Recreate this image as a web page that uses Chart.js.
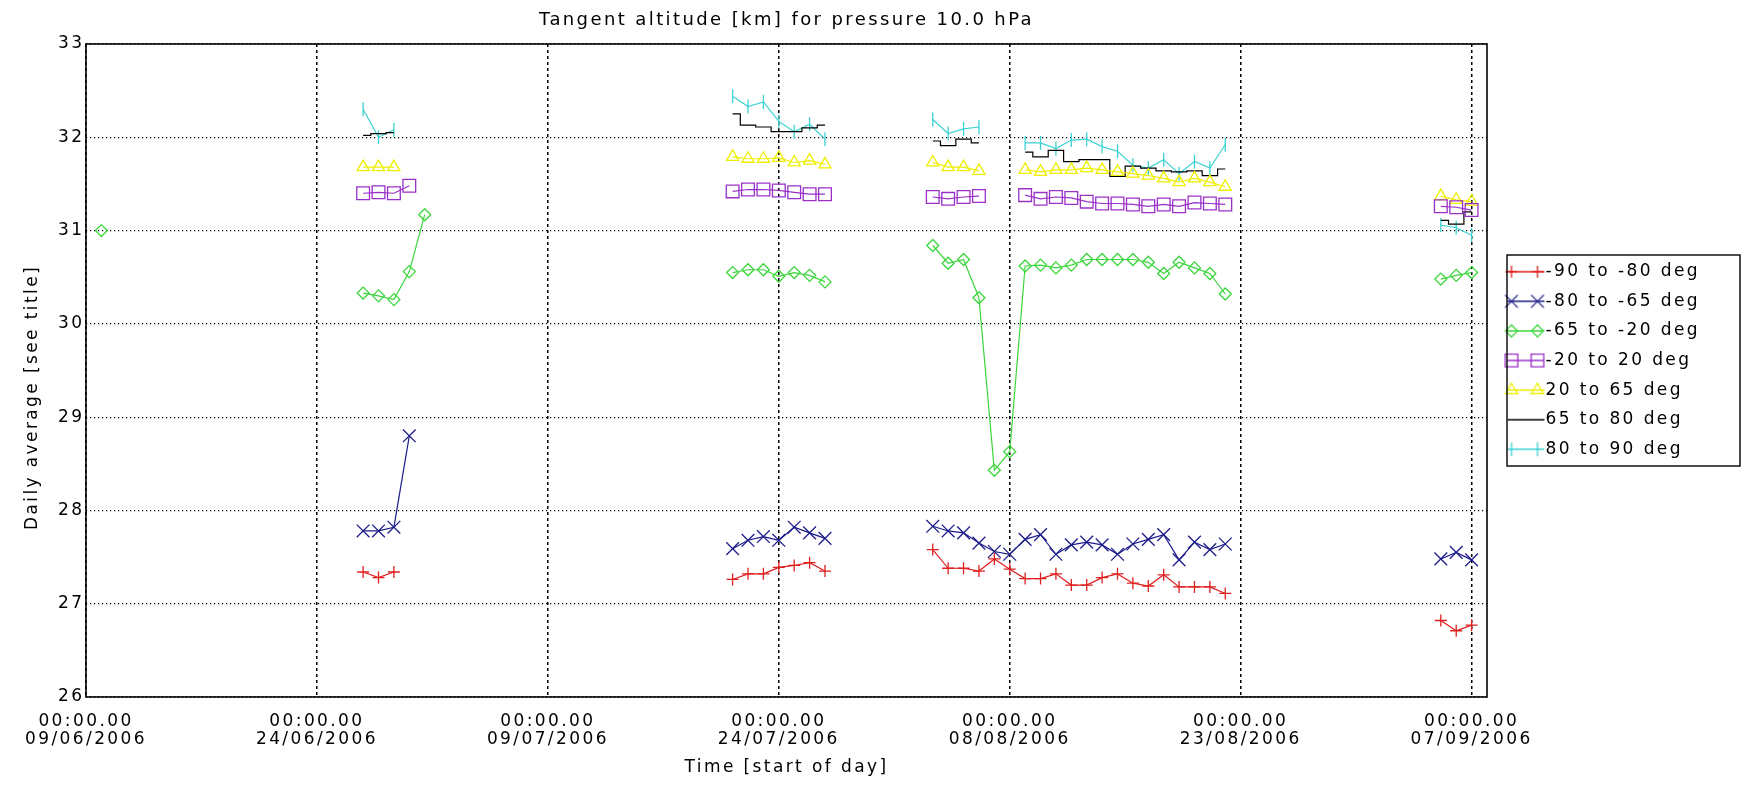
<!DOCTYPE html>
<html>
<head>
<meta charset="utf-8">
<script src="https://cdn.jsdelivr.net/npm/chart.js@4.4.1/dist/chart.umd.min.js"></script>
<style>
html,body{margin:0;padding:0;background:#fff;}
canvas{display:block;}
</style>
</head>
<body>
<canvas id="c" width="1746" height="787"></canvas>
<script>
// ---------- data ----------
const tickTime = '00:00.00';
const tickDates = ['09/06/2006','24/06/2006','09/07/2006','24/07/2006','08/08/2006','23/08/2006','07/09/2006'];

const dates = [
  '10/06/2006',
  '27/06/2006','28/06/2006','29/06/2006','30/06/2006','01/07/2006',
  '21/07/2006','22/07/2006','23/07/2006','24/07/2006','25/07/2006','26/07/2006','27/07/2006',
  '03/08/2006','04/08/2006','05/08/2006','06/08/2006','07/08/2006','08/08/2006','09/08/2006','10/08/2006',
  '11/08/2006','12/08/2006','13/08/2006','14/08/2006','15/08/2006','16/08/2006','17/08/2006','18/08/2006',
  '19/08/2006','20/08/2006','21/08/2006','22/08/2006',
  '05/09/2006','06/09/2006','07/09/2006'
];

const seriesLabels = ['-90 to -80 deg','-80 to -65 deg','-65 to -20 deg','-20 to 20 deg','20 to 65 deg','65 to 80 deg','80 to 90 deg'];

const lat_90_80 = [null, 27.34,27.28,27.34,null,null,
  27.26,27.32,27.32,27.39,27.41,27.44,27.35,
  27.58,27.38,27.38,27.35,27.48,27.37,27.27,27.27,27.32,27.20,27.20,27.28,27.32,27.22,27.19,27.31,27.18,27.18,27.18,27.11,
  26.82,26.71,26.77];
const lat_80_65 = [null, 27.78,27.78,27.82,28.80,null,
  27.59,27.68,27.72,27.68,27.82,27.76,27.70,
  27.83,27.78,27.76,27.65,27.56,27.53,27.69,27.74,27.53,27.63,27.66,27.63,27.53,27.64,27.69,27.74,27.47,27.66,27.58,27.64,
  27.48,27.55,27.47];
const lat_65_20 = [31.00, 30.33,30.30,30.26,30.56,31.17,
  30.55,30.58,30.58,30.51,30.55,30.52,30.45,
  30.84,30.65,30.69,30.28,28.43,28.63,30.62,30.63,30.60,30.63,30.69,30.69,30.69,30.69,30.66,30.54,30.66,30.60,30.54,30.32,
  30.48,30.52,30.55];
const lat_20_20 = [null, 31.40,31.41,31.40,31.48,null,
  31.42,31.44,31.44,31.43,31.41,31.39,31.39,
  31.36,31.34,31.36,31.37,null,null,31.38,31.34,31.36,31.35,31.31,31.29,31.29,31.28,31.26,31.28,31.26,31.30,31.29,31.28,
  31.26,31.25,31.22];
const lat20_65 = [null, 31.68,31.68,31.68,null,null,
  31.79,31.77,31.77,31.78,31.73,31.75,31.71,
  31.73,31.68,31.68,31.64,null,null,31.65,31.63,31.65,31.65,31.67,31.65,31.63,31.61,31.59,31.56,31.52,31.56,31.52,31.47,
  31.37,31.33,31.31];
const lat65_80 = [null, 32.02,32.04,32.05,null,null,
  32.25,32.13,32.11,32.06,32.06,32.10,32.13,
  31.96,31.91,31.98,31.94,null,null,31.84,31.79,31.86,31.74,31.76,31.76,31.58,31.69,31.67,31.64,31.63,31.64,31.59,31.66,
  31.11,31.07,31.20];
const lat80_90 = [null, 32.30,32.00,32.08,null,null,
  32.44,32.33,32.38,32.17,32.06,32.14,31.98,
  32.19,32.04,32.09,32.11,null,null,31.94,31.94,31.88,31.97,31.98,31.90,31.85,31.70,31.67,31.76,31.61,31.74,31.67,31.92,
  31.06,31.03,30.95];

const seriesValues = [lat_90_80, lat_80_65, lat_65_20, lat_20_20, lat20_65, lat65_80, lat80_90];

// ---------- styles ----------
const colors    = ['#e01e1e','#1c1c8a','#3cd63c','#9a30c8','#eeee00','#000000','#3cd2d2'];
const styles    = ['cross','crossRot','rectRot','rect','triangle',false,'line'];
const radii     = [6,9,6,9,7,0,7];
const rotations = [0,0,0,0,0,0,90];
const LS = '2.4px';
const legendBox = { left: 1507, right: 1740, top: 255, bottom: 466 };
const yTitleShift = 27;

// ---------- helpers ----------
function parseDate(s){ const p = s.split('/').map(Number); return Date.UTC(p[2], p[1]-1, p[0]); }
const base = parseDate(tickDates[0]);
function dayOf(s){ return Math.round((parseDate(s) - base) / 86400000); }

function makePoints(values){
  const pts = []; let prev = null;
  dates.forEach((d, i) => {
    const v = values[i];
    if (v === null || v === undefined) return;
    const x = dayOf(d);
    if (prev !== null && x - prev > 1) pts.push({x: (prev + x) / 2, y: null});
    pts.push({x: x, y: v});
    prev = x;
  });
  return pts;
}

function makeSample(i){
  const cv = document.createElement('canvas');
  cv.width = 48; cv.height = 20;
  const g = cv.getContext('2d');
  g.strokeStyle = colors[i]; g.fillStyle = 'rgba(0,0,0,0)'; g.lineWidth = 1.3;
  g.beginPath(); g.moveTo(9, 10); g.lineTo(46, 10); g.stroke();
  if (styles[i] && Chart.helpers && Chart.helpers.drawPoint) {
    [13, 39].forEach(x => Chart.helpers.drawPoint(g, {pointStyle: styles[i], radius: radii[i], rotation: rotations[i], borderWidth: 1.3}, x, 10));
  }
  return cv;
}

const tickValues = tickDates.map(dayOf);
const xMin = tickValues[0];
const xMax = tickValues[tickValues.length - 1] + 1;

const frame = {
  id: 'frame',
  afterInit(c){ c.ctx.letterSpacing = LS; },
  beforeUpdate(c){ c.ctx.letterSpacing = LS; },
  beforeLayout(c){ c.ctx.letterSpacing = LS; },
  beforeDraw(c){ c.ctx.letterSpacing = LS; },
  afterLayout(c){
    const lg = c.legend; if (!lg) return;
    const pad = lg.options.labels.padding;
    lg.left = legendBox.left + 1 - pad; lg.right = legendBox.right; lg.width = lg.right - lg.left;
    lg.top = legendBox.top - 40; lg.bottom = legendBox.bottom + 40; lg.height = lg.bottom - lg.top;
  },
  afterDraw(c){
    const ctx = c.ctx, a = c.chartArea;
    ctx.save();
    ctx.setLineDash([]);
    ctx.strokeStyle = '#000'; ctx.lineWidth = 1.6;
    ctx.strokeRect(a.left, a.top, a.right - a.left, a.bottom - a.top);
    ctx.lineWidth = 1.4;
    ctx.strokeRect(legendBox.left, legendBox.top, legendBox.right - legendBox.left, legendBox.bottom - legendBox.top);
    ctx.restore();
  }
};

Chart.defaults.font.family = "'DejaVu Sans', sans-serif";
Chart.defaults.font.size = 17;
Chart.defaults.color = '#000';

const samples = seriesLabels.map((_, i) => makeSample(i));

new Chart(document.getElementById('c'), {
  type: 'line',
  data: {
    datasets: seriesValues.map((vals, i) => ({
      label: seriesLabels[i],
      data: makePoints(vals),
      borderColor: colors[i],
      backgroundColor: colors[i],
      pointBorderColor: colors[i],
      pointBackgroundColor: 'rgba(0,0,0,0)',
      pointStyle: styles[i] || false,
      pointRadius: radii[i],
      pointRotation: rotations[i],
      pointBorderWidth: 1.3,
      borderWidth: 1.2,
      stepped: i === 5 ? 'middle' : false,
      spanGaps: false,
      tension: 0,
      fill: false
    }))
  },
  options: {
    responsive: false,
    animation: false,
    devicePixelRatio: 1,
    events: [],
    layout: { padding: { left: 0, right: 59, top: 0, bottom: 0 } },
    scales: {
      x: {
        type: 'linear',
        min: xMin, max: xMax,
        ticks: {
          padding: 16, maxRotation: 0, autoSkip: false,
          font: { size: 17, lineHeight: '18px' },
          callback: (v) => { const k = tickValues.indexOf(v); return k < 0 ? '' : [tickTime, tickDates[k]]; }
        },
        afterBuildTicks: (s) => { s.ticks = tickValues.map(v => ({ value: v })); },
        grid: { color: '#000', lineWidth: 1.5, drawTicks: false },
        border: { display: false, dash: [3, 3] },
        title: { display: true, text: 'Time [start of day]', font: { size: 17 }, padding: { top: 0, bottom: 8.8 } },
        afterFit: (s) => { s.height = 90; }
      },
      y: {
        type: 'linear',
        min: 26, max: 33,
        ticks: { stepSize: 1, padding: 1.5, font: { size: 17 } },
        grid: { color: '#000', lineWidth: 1.2, drawTicks: false },
        border: { display: false, dash: [1.2, 2.8] },
        title: { display: true, text: 'Daily average [see title]', font: { size: 17 }, padding: { top: 22.8, bottom: 0 } },
        afterFit: (s) => { s.width = 86; },
        afterUpdate: (s) => {
          if (s._titlePatched) return;
          const orig = s.drawTitle;
          s.drawTitle = function () {
            this.top += yTitleShift; this.bottom += yTitleShift;
            try { orig.call(this); } finally { this.top -= yTitleShift; this.bottom -= yTitleShift; }
          };
          s._titlePatched = true;
        }
      }
    },
    plugins: {
      title: {
        display: true, fullSize: false,
        text: 'Tangent altitude [km] for pressure 10.0 hPa',
        font: { size: 18, weight: 'normal' }, color: '#000',
        padding: { top: 9.2, bottom: 13.2 }
      },
      legend: {
        display: true, position: 'right', fullSize: false, maxWidth: 200,
        labels: {
          usePointStyle: true, pointStyleWidth: 29, boxHeight: 17, padding: 12.6,
          font: { size: 17 }, color: '#000',
          generateLabels: (chart) => chart.data.datasets.map((ds, i) => ({
            text: ds.label, pointStyle: samples[i], fillStyle: 'rgba(0,0,0,0)',
            strokeStyle: 'rgba(0,0,0,0)', lineWidth: 0, hidden: false, datasetIndex: i, fontColor: '#000'
          }))
        }
      },
      tooltip: { enabled: false }
    }
  },
  plugins: [frame]
});
</script>
</body>
</html>
